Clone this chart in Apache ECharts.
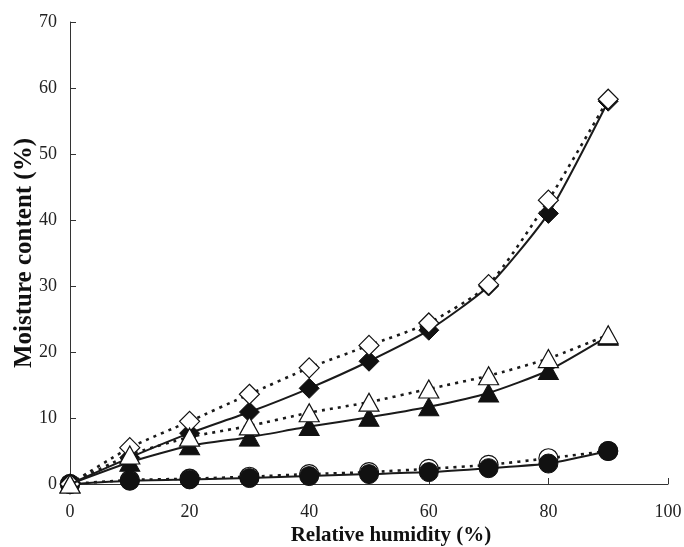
<!DOCTYPE html>
<html>
<head>
<meta charset="utf-8">
<script src="https://cdn.jsdelivr.net/npm/echarts@6/dist/echarts.min.js"></script>
<style>html,body{margin:0;padding:0;background:#fff}#c{width:684px;height:547px}</style>
</head>
<body>
<div id="c"></div>
<script>
const humidity = [0, 10, 20, 30, 40, 50, 60, 70, 80, 90];
const openDiamond   = [0, 5.5, 9.5, 13.6, 17.6, 21.0, 24.4, 30.2, 43.0, 58.3];
const filledDiamond = [0, 4.0, 7.7, 10.9, 14.5, 18.6, 23.3, 30.0, 41.0, 58.0];
const openTriangle  = [0, 4.4, 7.1, 8.8, 10.8, 12.4, 14.4, 16.4, 19.0, 22.6];
const filledTriangle= [0, 3.3, 5.8, 7.1, 8.7, 10.1, 11.7, 13.8, 17.2, 22.4];
const openCircle    = [0, 0.6, 0.8, 1.1, 1.5, 1.8, 2.3, 2.9, 3.9, 5.0];
const filledCircle  = [0, 0.5, 0.7, 0.9, 1.2, 1.5, 1.8, 2.4, 3.1, 5.0];
const xTicks = [0, 20, 40, 60, 80, 100];
const yTicks = [0, 10, 20, 30, 40, 50, 60, 70];

const pairs = v => humidity.map((h, i) => [h, v[i]]);
const font = "'Liberation Serif', 'Times New Roman', serif";

function ser(data, symbol, size, filled, dotted, z) {
  return {
    type: 'line', data: pairs(data), symbol: symbol, symbolSize: size,
    smooth: 0.2, z: z,
    lineStyle: dotted ? { color: '#1a1a1a', width: 2.6, type: [3, 5] } : { color: '#1a1a1a', width: 2 },
    itemStyle: filled ? { color: '#111', borderColor: '#111', borderWidth: 1 } : { color: '#fff', borderColor: '#111', borderWidth: 1.2 },
    emphasis: { disabled: true }, animation: false
  };
}

const chart = echarts.init(document.getElementById('c'));
chart.setOption({
  animation: false,
  backgroundColor: '#fff',
  grid: { left: 70, right: 16, top: 22, bottom: 63, containLabel: false, outerBoundsMode: 'none' },
  xAxis: {
    type: 'value', min: xTicks[0], max: xTicks[xTicks.length - 1], interval: 20,
    name: 'Relative humidity (%)', nameLocation: 'middle', nameGap: 41, nameMoveOverlap: false,
    nameTextStyle: { fontFamily: font, fontWeight: 'bold', fontSize: 21, color: '#111', padding: [0, 0, 0, 44] },
    axisLine: { lineStyle: { color: '#333', width: 1 } },
    axisTick: { inside: true, length: 6, lineStyle: { color: '#333' } },
    axisLabel: { fontFamily: font, fontSize: 18, color: '#222', margin: 19 },
    splitLine: { show: false }
  },
  yAxis: {
    type: 'value', min: yTicks[0], max: yTicks[yTicks.length - 1], interval: 10,
    name: 'Moisture content (%)', nameLocation: 'middle', nameGap: 33, nameMoveOverlap: false,
    nameTextStyle: { fontFamily: font, fontWeight: 'bold', fontSize: 25, color: '#111' },
    axisLine: { show: true, lineStyle: { color: '#333', width: 1 } },
    axisTick: { show: true, inside: true, length: 6, lineStyle: { color: '#333' } },
    axisLabel: { fontFamily: font, fontSize: 18, color: '#222', margin: 13 },
    splitLine: { show: false }
  },
  series: [
    ser(openCircle, 'circle', 19, false, true, 2),
    ser(filledCircle, 'circle', 19, true, false, 3),
    ser(filledDiamond, 'diamond', [20, 20], true, false, 4),
    ser(openDiamond, 'diamond', [20, 20], false, true, 5),
    ser(filledTriangle, 'triangle', [20, 18], true, false, 6),
    ser(openTriangle, 'triangle', [20, 18], false, true, 7)
  ]
});
</script>
</body>
</html>
